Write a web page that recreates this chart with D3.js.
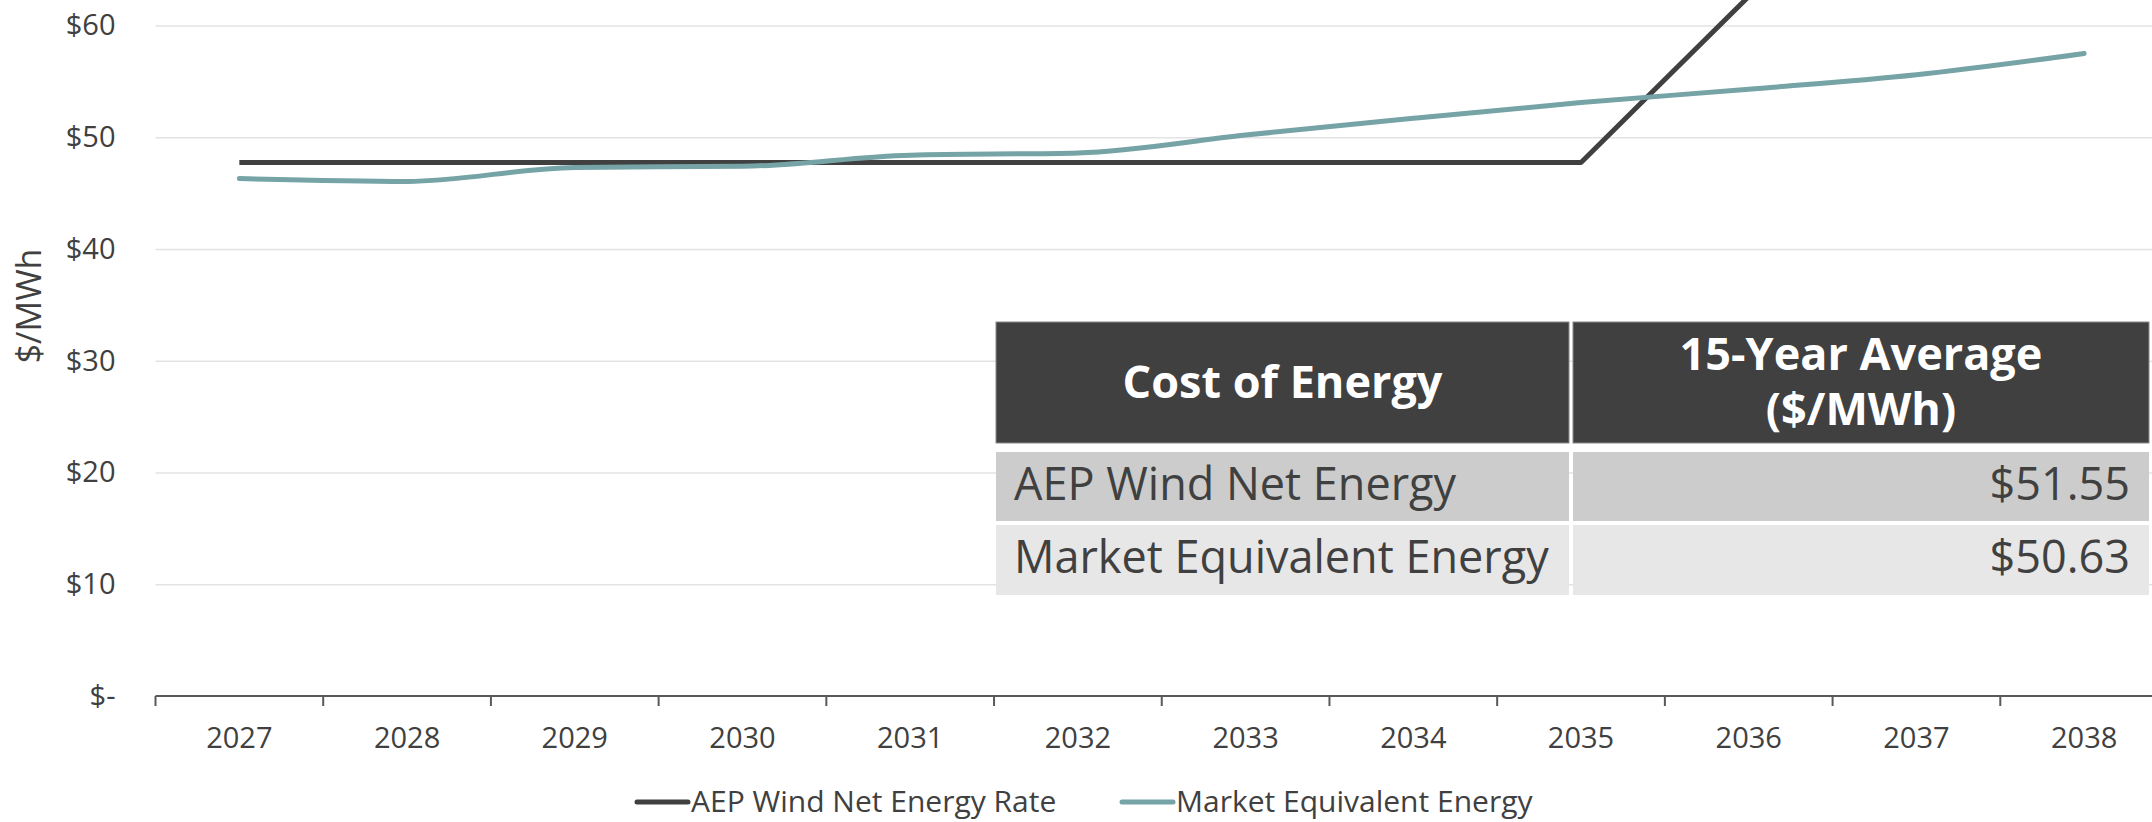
<!DOCTYPE html>
<html>
<head>
<meta charset="utf-8">
<script src="https://cdn.jsdelivr.net/npm/d3@7"></script>
<style>
  body { margin: 0; background: #fff; }
  #graf { width: 2152px; height: 822px; overflow: hidden; }
  text { font-family: 'Open Sans', sans-serif; }
</style>
</head>
<body>
<div id="graf"></div>
<script>
const years = ['2027', '2028', '2029', '2030', '2031', '2032', '2033', '2034', '2035', '2036', '2037', '2038']
const aepRate = [47.74, 47.74, 47.74, 47.74, 47.74, 47.74, 47.74, 47.74, 47.74, 62.6, 63.9, 65.2]
const marketEnergy = [46.3, 46.05, 47.3, 47.4, 48.4, 48.6, 50.2, 51.7, 53.1, 54.3, 55.6, 57.5]
const yTicks = [0, 10, 20, 30, 40, 50, 60]

const seriesNames = ['AEP Wind Net Energy Rate', 'Market Equivalent Energy']
const tableHead = ['Cost of Energy', '15-Year Average', '($/MWh)']
const tableNames = ['AEP Wind Net Energy', 'Market Equivalent Energy']
const tableValues = ['$51.55', '$50.63']

const ancho = 2152
const alto = 822
const oscuro = '#404040'
const verde = '#75a3a6'

const svg = d3.select('#graf').append('svg')
    .attr('width', ancho)
    .attr('height', alto)

// plot runs past the right and top edge of the picture (cropped chart)
const x = d3.scaleBand().domain(years).range([155.5, 2168])
const y = d3.scaleLinear().domain([0, 60]).range([696, 25.5])

// gridlines + y labels
const yAxis = svg.append('g')
    .attr('transform', `translate(${x.range()[0]},0)`)
    .call(d3.axisLeft(y).tickValues(yTicks).tickSize(-(ancho - x.range()[0]))
        .tickPadding(40).tickFormat(d => d === 0 ? '$-' : '$' + d))
yAxis.select('.domain').remove()
yAxis.selectAll('line').attr('stroke', '#e3e3e3').attr('stroke-width', 1.5)
    .filter(d => d === 0).remove()
yAxis.selectAll('text').attr('fill', oscuro).style('font-size', '29px')

svg.append('text')
    .attr('transform', `translate(28,306) rotate(-90)`)
    .attr('text-anchor', 'middle')
    .attr('dominant-baseline', 'central')
    .attr('fill', oscuro)
    .style('font-size', '34px')
    .text('$/MWh')

// x axis
const xAxis = svg.append('g')
    .attr('transform', `translate(0,${y(0)})`)
    .call(d3.axisBottom(x).tickSize(0))
xAxis.select('.domain').attr('stroke', '#595959').attr('stroke-width', 2)
    .attr('d', `M${x.range()[0]},0H${ancho}`)
xAxis.selectAll('text').attr('y', 52).attr('dy', 0)
    .attr('fill', oscuro).style('font-size', '29px')
svg.append('g').selectAll('line')
    .data(years.map(d => x(d)).concat([x.range()[1]]))
    .enter().append('line')
    .attr('x1', d => d).attr('x2', d => d)
    .attr('y1', y(0)).attr('y2', y(0) + 10)
    .attr('stroke', '#595959').attr('stroke-width', 2)

// lines
const cx = d => x(d) + x.bandwidth() / 2
const lineaAep = d3.line().x((d, i) => cx(years[i])).y(d => y(d))
const lineaMkt = d3.line().x((d, i) => cx(years[i])).y(d => y(d)).curve(d3.curveMonotoneX)

svg.append('path').datum(aepRate)
    .attr('d', lineaAep).attr('fill', 'none')
    .attr('stroke', oscuro).attr('stroke-width', 5).attr('stroke-linejoin', 'round')
svg.append('path').datum(marketEnergy)
    .attr('d', lineaMkt).attr('fill', 'none')
    .attr('stroke', verde).attr('stroke-width', 5).attr('stroke-linecap', 'round')

// table
const cols = [[996, 1569], [1573, 2149]]
const filas = [[452, 521], [525, 595]]
const head = svg.append('g')
cols.forEach(c => {
    head.append('rect').attr('x', c[0]).attr('y', 322)
        .attr('width', c[1] - c[0]).attr('height', 443 - 322)
        .attr('fill', oscuro).attr('stroke', '#8a8a8a').attr('stroke-width', 1)
})
head.append('text')
    .attr('x', (cols[0][0] + cols[0][1]) / 2).attr('y', 398)
    .attr('text-anchor', 'middle').attr('fill', '#fff')
    .style('font-size', '45px').style('font-weight', 700)
    .text(tableHead[0])
head.selectAll('text.h2').data(tableHead.slice(1)).enter().append('text')
    .attr('x', (cols[1][0] + cols[1][1]) / 2).attr('y', (d, i) => 370 + i * 55)
    .attr('text-anchor', 'middle').attr('fill', '#fff')
    .style('font-size', '45px').style('font-weight', 700)
    .text(d => d)

const cuerpo = svg.append('g').selectAll('g').data(tableNames).enter().append('g')
cuerpo.each(function (d, i) {
    const g = d3.select(this)
    const f = filas[i]
    cols.forEach(c => {
        g.append('rect').attr('x', c[0]).attr('y', f[0])
            .attr('width', c[1] - c[0]).attr('height', f[1] - f[0])
            .attr('fill', i === 0 ? '#cccccc' : '#e7e7e7')
    })
    g.append('text').attr('x', 1014).attr('y', f[0] + 48)
        .attr('fill', oscuro).style('font-size', '45px').text(d)
    g.append('text').attr('x', 2130).attr('y', f[0] + 48)
        .attr('text-anchor', 'end')
        .attr('fill', oscuro).style('font-size', '45px').text(tableValues[i])
})

// legend
const leyenda = [{ x: 635, color: oscuro }, { x: 1120, color: verde }]
leyenda.forEach((l, i) => {
    svg.append('line')
        .attr('x1', l.x + 2).attr('x2', l.x + 53)
        .attr('y1', 802).attr('y2', 802)
        .attr('stroke', l.color).attr('stroke-width', 5).attr('stroke-linecap', 'round')
    svg.append('text')
        .attr('x', l.x + 56).attr('y', 812)
        .attr('fill', oscuro).style('font-size', '30px')
        .text(seriesNames[i])
})
</script>
</body>
</html>
